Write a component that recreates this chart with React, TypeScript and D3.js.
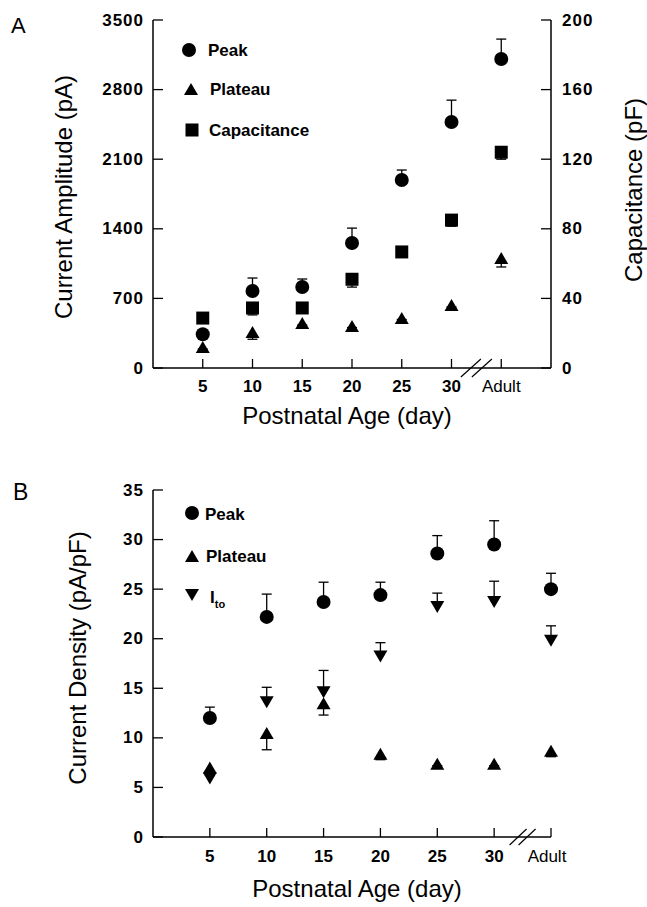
import React from "react";
import * as d3 from "d3";

// ---- Data ----
const ageLabels = ["5", "10", "15", "20", "25", "30", "Adult"];
const agePos = [5, 10, 15, 20, 25, 30, 35];

// Panel A (pA / pF)
const peakAmp = [340, 775, 815, 1257, 1891, 2474, 3108];
const peakAmpErr = [40, 130, 80, 150, 100, 220, 200];
const plateauAmp = [211, 362, 453, 422, 503, 634, 1106];
const plateauAmpErr = [20, 73, 20, 15, 15, 20, 90];
const capacitance = [28.7, 34.5, 34.5, 51, 66.7, 85, 124];
const capacitanceErr = [1, 4, 1.5, 4.5, 1.5, 3.5, 4];

// Panel B (pA/pF)
const peakDen = [12.0, 22.2, 23.7, 24.4, 28.6, 29.5, 25.0];
const peakDenErr = [1.1, 2.3, 2.0, 1.3, 1.8, 2.4, 1.6];
const plateauDen = [7.0, 10.5, 13.5, 8.4, 7.4, 7.4, 8.7];
const plateauDenErr = [0.3, 1.7, 1.2, 0.6, 0.2, 0.2, 0.6];
const itoDen = [5.9, 13.6, 14.6, 18.2, 23.2, 23.7, 19.8];
const itoDenErr = [0.3, 1.5, 2.2, 1.4, 1.4, 2.1, 1.5];

const ampTicks = [0, 700, 1400, 2100, 2800, 3500];
const capTicks = [0, 40, 80, 120, 160, 200];
const denTicks = [0, 5, 10, 15, 20, 25, 30, 35];

const FONT = "'Liberation Sans', Arial, Helvetica, sans-serif";

type Shape = "circle" | "up" | "down" | "square";

function Marker({ shape, x, y }: { shape: Shape; x: number; y: number }) {
  if (shape === "circle") return <circle cx={x} cy={y} r={7} fill="#000" />;
  if (shape === "square")
    return <rect x={x - 6.5} y={y - 6.5} width={13} height={13} fill="#000" />;
  const w = 7, h = 6;
  const p =
    shape === "up"
      ? `M${x},${y - h}L${x + w},${y + h}L${x - w},${y + h}Z`
      : `M${x},${y + h}L${x + w},${y - h}L${x - w},${y - h}Z`;
  return <path d={p} fill="#000" />;
}

function Series({
  xs, vals, errs, dir, shape, sx, sy,
}: {
  xs: number[]; vals: number[]; errs: number[]; dir: 1 | -1; shape: Shape;
  sx: d3.ScaleLinear<number, number>; sy: d3.ScaleLinear<number, number>;
}) {
  return (
    <g>
      {vals.map((v, i) => {
        const x = sx(xs[i]);
        const y0 = sy(v);
        const y1 = sy(v + dir * errs[i]);
        return (
          <g key={i}>
            <line x1={x} x2={x} y1={y0} y2={y1} stroke="#000" strokeWidth={1.3} />
            <line x1={x - 5} x2={x + 5} y1={y1} y2={y1} stroke="#000" strokeWidth={1.3} />
            <Marker shape={shape} x={x} y={y0} />
          </g>
        );
      })}
    </g>
  );
}

export default function App() {
  // Panel A scales
  const xA = d3.scaleLinear().domain([0, 40]).range([153, 551]);
  const yA = d3.scaleLinear().domain([0, 3500]).range([368, 20]);
  const yC = d3.scaleLinear().domain([0, 200]).range([368, 20]);
  // Panel B scales
  const xB = d3.scaleLinear().domain([0, 35]).range([153, 551]);
  const yB = d3.scaleLinear().domain([0, 35]).range([837, 490]);

  const tickStyle = { fontFamily: FONT, fontSize: 17, fontWeight: 700 } as const;
  const titleStyle = { fontFamily: FONT, fontSize: 24 } as const;

  const breakA = xA(32.5);
  const breakB = xB(32.5);

  return (
    <svg width={647} height={907} style={{ position: "absolute", left: 0, top: 0, background: "#fff" }}>
      <rect width={647} height={907} fill="#fff" />
      {/* ===== Panel A ===== */}
      <text x={11} y={33} style={{ fontFamily: FONT, fontSize: 22 }}>A</text>
      {/* axes */}
      <line x1={xA(0)} x2={xA(0)} y1={yA(3500)} y2={yA(0)} stroke="#000" strokeWidth={1.5} />
      <line x1={xA(40)} x2={xA(40)} y1={yC(200)} y2={yC(0)} stroke="#000" strokeWidth={1.5} />
      <line x1={xA(0)} x2={xA(40)} y1={yA(0)} y2={yA(0)} stroke="#000" strokeWidth={1.5} />
      {ampTicks.map((t) => (
        <g key={t}>
          <line x1={xA(0)} x2={xA(0) + 10} y1={yA(t)} y2={yA(t)} stroke="#000" strokeWidth={1.3} />
          <text x={144} y={yA(t)} textAnchor="end" dominantBaseline="central" style={{ ...tickStyle, letterSpacing: 1 }}>
            {t}
          </text>
        </g>
      ))}
      {capTicks.map((t) => (
        <g key={t}>
          <line x1={xA(40)} x2={xA(40) - 10} y1={yC(t)} y2={yC(t)} stroke="#000" strokeWidth={1.3} />
          <text x={562} y={yC(t)} textAnchor="start" dominantBaseline="central" style={{ ...tickStyle, letterSpacing: 1 }}>
            {t}
          </text>
        </g>
      ))}
      {agePos.map((p, i) => (
        <g key={p}>
          <line x1={xA(p)} x2={xA(p)} y1={yA(0)} y2={yA(0) - 9} stroke="#000" strokeWidth={1.3} />
          <text x={xA(p)} y={392} textAnchor="middle" style={i === 6 ? { fontFamily: FONT, fontSize: 17 } : tickStyle}>
            {ageLabels[i]}
          </text>
        </g>
      ))}
      {[-5.5, 5.5].map((o) => (
        <line key={o} x1={breakA + o - 10} x2={breakA + o + 10} y1={yA(0) + 9} y2={yA(0) - 9} stroke="#000" strokeWidth={1.2} />
      ))}
      <text x={347} y={424} textAnchor="middle" style={titleStyle}>Postnatal Age (day)</text>
      <text transform={`translate(72,197) rotate(-90)`} textAnchor="middle" style={titleStyle}>Current Amplitude (pA)</text>
      <text transform={`translate(642,190) rotate(-90)`} textAnchor="middle" style={titleStyle}>Capacitance (pF)</text>

      <Series xs={agePos} vals={capacitance} errs={capacitanceErr} dir={-1} shape="square" sx={xA} sy={yC} />
      <Series xs={agePos} vals={plateauAmp} errs={plateauAmpErr} dir={-1} shape="up" sx={xA} sy={yA} />
      <Series xs={agePos} vals={peakAmp} errs={peakAmpErr} dir={1} shape="circle" sx={xA} sy={yA} />

      {/* legend A */}
      <Marker shape="circle" x={189} y={50} />
      <text x={208} y={56} style={tickStyle}>Peak</text>
      <Marker shape="up" x={191} y={89} />
      <text x={210} y={95} style={tickStyle}>Plateau</text>
      <Marker shape="square" x={192} y={130} />
      <text x={209} y={136} style={tickStyle}>Capacitance</text>

      {/* ===== Panel B ===== */}
      <text x={13} y={500} style={{ fontFamily: FONT, fontSize: 23 }}>B</text>
      <line x1={xB(0)} x2={xB(0)} y1={yB(35)} y2={yB(0)} stroke="#000" strokeWidth={1.5} />
      <line x1={xB(0)} x2={xB(35)} y1={yB(0)} y2={yB(0)} stroke="#000" strokeWidth={1.5} />
      {denTicks.map((t) => (
        <g key={t}>
          <line x1={xB(0)} x2={xB(0) + 10} y1={yB(t)} y2={yB(t)} stroke="#000" strokeWidth={1.3} />
          <text x={144} y={yB(t)} textAnchor="end" dominantBaseline="central" style={{ ...tickStyle, letterSpacing: 1 }}>
            {t}
          </text>
        </g>
      ))}
      {agePos.map((p, i) => (
        <g key={p}>
          <line x1={xB(p)} x2={xB(p)} y1={yB(0)} y2={yB(0) - 9} stroke="#000" strokeWidth={1.3} />
          <text x={xB(p) - (i === 6 ? 4 : 0)} y={862} textAnchor="middle" style={i === 6 ? { fontFamily: FONT, fontSize: 17 } : tickStyle}>
            {ageLabels[i]}
          </text>
        </g>
      ))}
      {[-4.5, 4.5].map((o) => (
        <line key={o} x1={breakB + o - 8.5} x2={breakB + o + 8.5} y1={yB(0) + 8} y2={yB(0) - 8} stroke="#000" strokeWidth={1.2} />
      ))}
      <text x={357} y={897} textAnchor="middle" style={titleStyle}>Postnatal Age (day)</text>
      <text transform={`translate(86,658) rotate(-90)`} textAnchor="middle" style={titleStyle}>Current Density (pA/pF)</text>

      <Series xs={agePos} vals={plateauDen} errs={plateauDenErr} dir={-1} shape="up" sx={xB} sy={yB} />
      <Series xs={agePos} vals={itoDen} errs={itoDenErr} dir={1} shape="down" sx={xB} sy={yB} />
      <Series xs={agePos} vals={peakDen} errs={peakDenErr} dir={1} shape="circle" sx={xB} sy={yB} />

      {/* legend B */}
      <Marker shape="circle" x={192} y={513} />
      <text x={205} y={520} style={tickStyle}>Peak</text>
      <Marker shape="up" x={192} y={556} />
      <text x={206} y={562} style={tickStyle}>Plateau</text>
      <Marker shape="down" x={192} y={595} />
      <text x={210} y={603} style={tickStyle}>
        I<tspan fontSize={11} dy={5}>to</tspan>
      </text>
    </svg>
  );
}
